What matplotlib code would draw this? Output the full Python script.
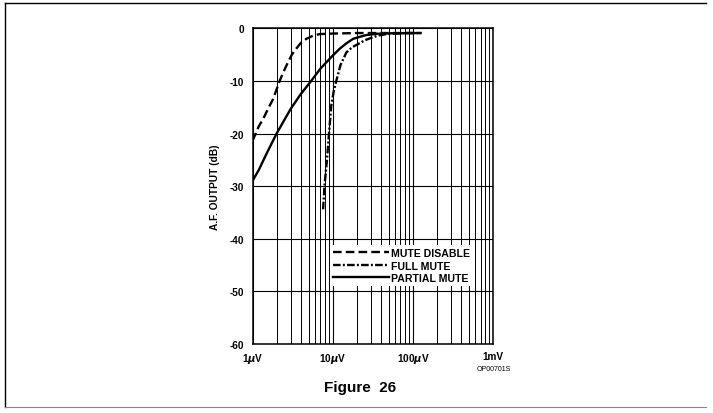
import matplotlib
matplotlib.use("Agg")
import matplotlib.pyplot as plt
from matplotlib.lines import Line2D

plt.rcParams['font.family'] = ['Liberation Sans', 'DejaVu Sans']
plt.rcParams['font.weight'] = 'bold'
plt.rcParams['lines.scale_dashes'] = False

# Input level in microvolts, output in dB
mute_disable_x = [1.0, 1.2, 1.35, 1.6, 1.8, 2.0, 2.18, 2.45, 2.76, 3.1, 3.5, 4.0, 4.7, 5.7, 6.9, 10, 20, 50, 125]
mute_disable_y = [-21.4, -18.6, -17.3, -15.0, -13.5, -11.6, -10.0, -8.2, -6.5, -5.0, -3.9, -2.8, -2.0, -1.4, -1.1, -1.0, -0.9, -0.9, -0.9]

full_mute_x = [7.6, 7.9, 8.5, 9.0, 9.6, 10.3, 11.1, 12.5, 14.8, 17.5, 20.7, 25, 31.6, 38, 47, 80, 125]
full_mute_y = [-34.4, -30.0, -24.9, -20.0, -14.7, -12.0, -10.0, -7.0, -4.6, -3.6, -3.0, -2.3, -1.7, -1.35, -1.1, -0.9, -0.9]

partial_mute_x = [1.0, 1.2, 1.5, 2.0, 2.5, 3.0, 4.0, 5.4, 7.0, 8.3, 10, 12.2, 15, 18, 22, 26, 35, 50, 125]
partial_mute_y = [-29.0, -26.9, -23.8, -20.0, -17.4, -15.3, -12.5, -10.0, -7.7, -6.5, -5.2, -3.9, -2.8, -2.0, -1.6, -1.3, -1.05, -0.95, -0.9]

x_ticks = [1, 10, 100, 1000]
x_tick_labels = ['1$\\mu$V', '10$\\mu$V', '100$\\mu$V', '1mV']
y_ticks = [0, -10, -20, -30, -40, -50, -60]
y_tick_labels = ['0', '-10', '-20', '-30', '-40', '-50', '-60']

W, H = 713, 414
fig = plt.figure(figsize=(W / 100, H / 100), dpi=100)
ax = fig.add_axes([252.5 / W, 1 - 345 / H, 240.5 / W, (345 - 29.3) / H])

ax.set_xscale('log')
ax.set_xlim(1, 1000)
ax.set_ylim(-60, 0)

ax.plot(mute_disable_x, mute_disable_y, color='black', lw=1.7,
        linestyle=(0, (6.2, 3.0)), label='MUTE DISABLE')
ax.plot(full_mute_x, full_mute_y, color='black', lw=1.7,
        linestyle=(0, (5.5, 1.6, 1.4, 1.6)), label='FULL MUTE')
ax.plot(partial_mute_x, partial_mute_y, color='black', lw=1.7,
        linestyle='-', label='PARTIAL MUTE')

ax.set_xticks(x_ticks)
ax.set_xticklabels(x_tick_labels, fontsize=7.2, fontweight='bold')
ax.set_yticks(y_ticks)
ax.set_yticklabels(y_tick_labels, fontsize=7.2, fontweight='bold')
ax.tick_params(axis='both', which='both', length=0)
ax.tick_params(axis='x', pad=5)
ax.tick_params(axis='y', pad=6)

ax.grid(True, which='major', axis='both', color='black', lw=0.8)
ax.grid(True, which='minor', axis='x', color='black', lw=0.7)
for s in ax.spines.values():
    s.set_linewidth(1.1)

ax.set_ylabel('A.F. OUTPUT (dB)', fontsize=7.3, fontweight='bold', labelpad=7)

leg = ax.legend(loc='center left', bbox_to_anchor=((330 - 252.5) / 240.5, (345 - 266.5) / 315.7),
                fontsize=7.6, handlelength=5.3, handletextpad=0.2, labelspacing=0.22,
                borderpad=0.3, borderaxespad=0, frameon=True, fancybox=False,
                framealpha=1, facecolor='white', edgecolor='none')
for t in leg.get_texts():
    t.set_fontweight('bold')

fig.text(494 / W, 1 - 370 / H, 'OP00701S', fontsize=5, fontweight='normal',
         ha='center', va='center')
fig.text(360 / W, 1 - 388 / H, 'Figure  26', fontsize=11, fontweight='bold',
         ha='center', va='center')

# outer frame
fig.add_artist(Line2D([5 / W, 5 / W], [1 - 4 / H, 1 - 408 / H], color='black', lw=1.0))
fig.add_artist(Line2D([5 / W, 706 / W], [1 - 4 / H, 1 - 4 / H], color='black', lw=1.0))
fig.add_artist(Line2D([5 / W, 706 / W], [1 - 408 / H, 1 - 408 / H], color='#888888', lw=0.8))

fig.savefig('out.png', dpi=100)
